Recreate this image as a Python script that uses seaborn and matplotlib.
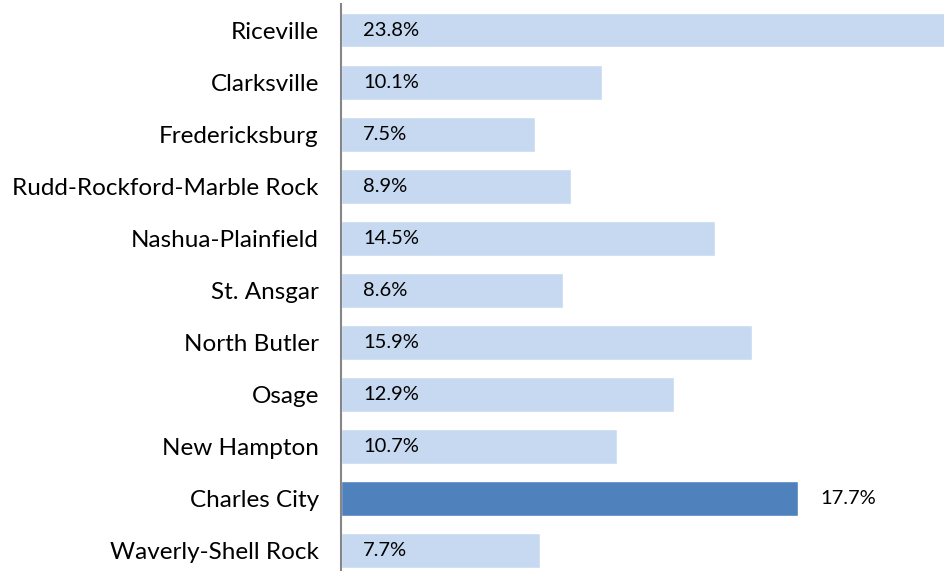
import matplotlib
matplotlib.use("Agg")
import matplotlib.pyplot as plt
import seaborn as sns

# data
cities = ["Riceville", "Clarksville", "Fredericksburg", "Rudd-Rockford-Marble Rock",
          "Nashua-Plainfield", "St. Ansgar", "North Butler", "Osage",
          "New Hampton", "Charles City", "Waverly-Shell Rock"]
pct = [23.8, 10.1, 7.5, 8.9, 14.5, 8.6, 15.9, 12.9, 10.7, 17.7, 7.7]
highlight = "Charles City"

sns.set_style("white")
plt.rcParams['font.family'] = ['Lato', 'DejaVu Sans']

light = "#C6D9F1"
dark = "#4F81BD"
colors = [dark if c == highlight else light for c in cities]

fig = plt.figure(figsize=(9.45, 5.71), dpi=100)
ax = fig.add_axes([341 / 945, 0, 1 - 341 / 945, 567 / 571])

sns.barplot(x=pct, y=cities, hue=cities, palette=colors, legend=False,
            width=0.67, saturation=1, ax=ax)

ax.set_xlim(0, 23.39)
ax.set_ylim(10.39, -0.5)

# value labels: inside the light bars, outside the highlighted one
for i, (c, v) in enumerate(zip(cities, pct)):
    x0 = v if c == highlight else 0
    ax.annotate(f"{v}%", (x0, i), xytext=(16, 0), textcoords="offset points",
                va="center", ha="left", fontsize=14.5, color="black")

sns.despine(ax=ax, left=False, bottom=True, top=True, right=True)
ax.spines['left'].set_color("#868686")
ax.spines['left'].set_linewidth(1.5)
ax.set_xticks([])
ax.tick_params(axis='y', length=0, pad=16, labelsize=17.5, labelcolor="black")
ax.set_xlabel("")
ax.set_ylabel("")

fig.savefig("out.png", dpi=100)
